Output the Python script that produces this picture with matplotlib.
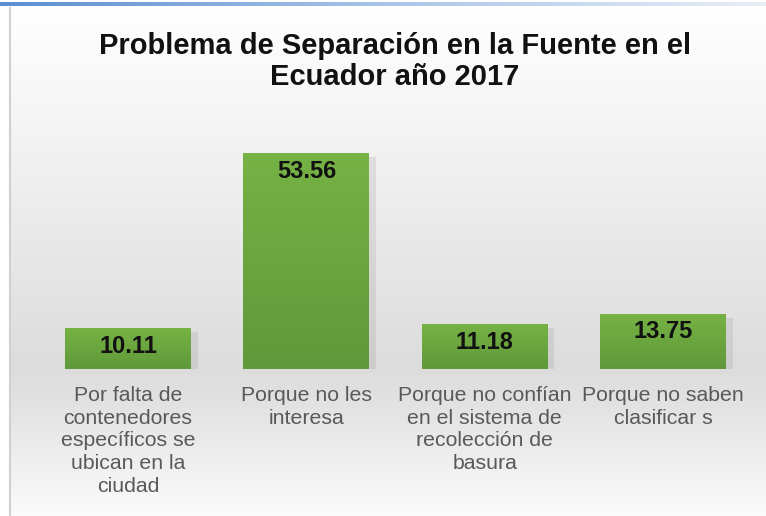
import numpy as np
import matplotlib
matplotlib.use('Agg')
import matplotlib.pyplot as plt
import matplotlib.patheffects as pe
from matplotlib.colors import LinearSegmentedColormap

plt.rcParams['font.family'] = ['Liberation Sans', 'DejaVu Sans']

categories = ["Por falta de\ncontenedores\nespecíficos se\nubican en la\nciudad",
              "Porque no les\ninteresa",
              "Porque no confían\nen el sistema de\nrecolección de\nbasura",
              "Porque no saben\nclasificar s"]
values = [10.11, 53.56, 11.18, 13.75]
value_labels = ["10.11", "53.56", "11.18", "13.75"]
title = "Problema de Separación en la Fuente en el\nEcuador año 2017"

fig = plt.figure(figsize=(7.66, 5.16), dpi=100)

# background panel with soft vertical gradient
bg = fig.add_axes([10/766, 0, 756/766, 508/516], zorder=-2)
bg_cmap = LinearSegmentedColormap.from_list(
    "bg", [(0, "#ffffff"), (0.25, "#f3f3f3"), (0.71, "#dcdcdc"),
           (0.8, "#e4e4e4"), (1.0, "#fbfbfb")])
bg.imshow(np.linspace(0, 1, 256).reshape(-1, 1), aspect='auto', cmap=bg_cmap,
          extent=[0, 1, 1, 0])
bg.axis('off')

# top blue rule and left border
deco = fig.add_axes([0, 0, 1, 1], zorder=-1)
deco.axis('off')
blue_cmap = LinearSegmentedColormap.from_list("blue", ["#5b8fd0", "#a9c4e8", "#e8eef6"])
deco.imshow(np.linspace(0, 1, 256).reshape(1, -1), aspect='auto', cmap=blue_cmap,
            extent=[0, 766, 6, 2])
deco.plot([10, 10], [8, 516], color="#d0d0d0", lw=1.5)
deco.set_xlim(0, 766)
deco.set_ylim(516, 0)

ax = fig.add_axes([39/766, (516-369)/516, (752-39)/766, 242/516])
ax.patch.set_alpha(0)
x = np.arange(len(values))
bars = ax.bar(x, values, width=0.706, color="#6aa640", zorder=2,
              path_effects=[pe.SimplePatchShadow(offset=(5, -3), shadow_rgbFace="#777777", alpha=0.15),
                            pe.Normal()])

green = LinearSegmentedColormap.from_list("g", ["#76b244", "#60993a"])
for b in bars:
    im = ax.imshow(np.linspace(0, 1, 64).reshape(-1, 1), cmap=green, aspect='auto',
                   extent=[b.get_x(), b.get_x() + b.get_width(), 0, b.get_height()],
                   origin='upper', zorder=3)
    im.set_clip_path(b)
ax.set_xlim(-0.5, 3.5)
ax.set_ylim(0, 60)

for xi, v, lab in zip(x, values, value_labels):
    ax.annotate(lab, (xi, v), xytext=(0, -5), textcoords='offset points',
                ha='center', va='top', fontsize=17, fontweight='bold',
                color='#111111', zorder=4)

ax.set_xticks(x)
ax.set_xticklabels(categories, fontsize=15.3, color='#595959', linespacing=1.26)
ax.tick_params(axis='x', length=0, pad=12)
ax.set_yticks([])
for s in ax.spines.values():
    s.set_visible(False)

fig.text(395/766, 1 - 61.5/516, title, ha='center', va='center', fontsize=21,
         fontweight='bold', color='#111111', linespacing=1.18)

fig.savefig("out.png", dpi=100)
